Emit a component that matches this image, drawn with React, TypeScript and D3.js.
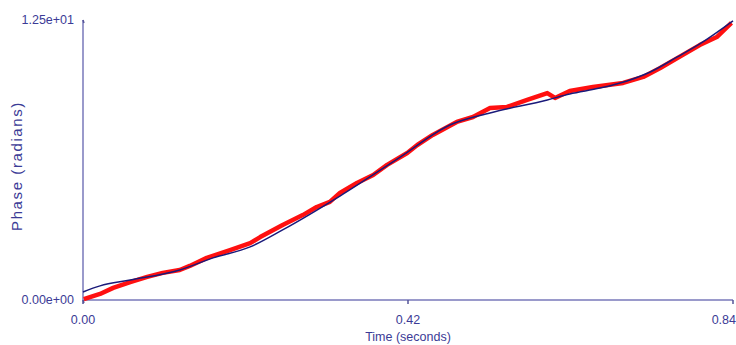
import React, { useEffect, useRef } from 'react';
import * as d3 from 'd3';

const measuredTime = [0.001, 0.022, 0.039, 0.061, 0.083, 0.103, 0.125, 0.138, 0.160, 0.190, 0.216, 0.229, 0.258, 0.284, 0.302, 0.319, 0.332, 0.354, 0.375, 0.393, 0.419, 0.432, 0.452, 0.483, 0.504, 0.526, 0.548, 0.574, 0.600, 0.610, 0.629, 0.659, 0.698, 0.724, 0.746, 0.768, 0.797, 0.819, 0.838];
const measuredPhase = [0.04, 0.27, 0.54, 0.80, 1.03, 1.21, 1.34, 1.52, 1.88, 2.23, 2.54, 2.81, 3.35, 3.79, 4.15, 4.38, 4.78, 5.22, 5.58, 6.03, 6.56, 6.92, 7.37, 7.95, 8.17, 8.57, 8.62, 8.93, 9.24, 9.02, 9.33, 9.51, 9.69, 9.96, 10.36, 10.80, 11.38, 11.74, 12.37];

// fitted curve (blue)
const fitTime = [0.0, 0.022, 0.061, 0.125, 0.168, 0.216, 0.258, 0.332, 0.410, 0.474, 0.526, 0.600, 0.629, 0.668, 0.703, 0.733, 0.768, 0.797, 0.84];
const fitPhase = [0.36, 0.63, 0.89, 1.34, 1.88, 2.37, 3.13, 4.64, 6.38, 7.81, 8.35, 8.93, 9.20, 9.46, 9.78, 10.18, 10.85, 11.43, 12.46];

const xTicks = [0.0, 0.42, 0.84];
const yTicks = [0, 12.5];

const width = 736;
const height = 345;

const App = () => {
  const ref = useRef<SVGSVGElement>(null);

  useEffect(() => {
    const svg = d3.select(ref.current);
    svg.selectAll('*').remove();

    const x = d3.scaleLinear().domain([0, 0.84]).range([83, 733]);
    const y = d3.scaleLinear().domain([0, 12.5]).range([300, 20]);

    const axisColor = '#9a9acb';
    const textColor = '#3b3b96';
    const font = 'Liberation Sans, Arial, sans-serif';

    const measured = measuredTime.map((t, i) => [t, measuredPhase[i]]);
    const fit = fitTime.map((t, i) => [t, fitPhase[i]]);

    const line = d3.line<number[]>()
      .x(d => x(d[0]))
      .y(d => y(d[1]));

    // axes
    svg.append('line')
      .attr('x1', x(0)).attr('x2', x(0.84))
      .attr('y1', y(0)).attr('y2', y(0))
      .attr('stroke', axisColor).attr('stroke-width', 2);
    svg.append('line')
      .attr('x1', x(0)).attr('x2', x(0))
      .attr('y1', y(0)).attr('y2', y(12.5))
      .attr('stroke', axisColor).attr('stroke-width', 2);

    svg.append('g').selectAll('line')
      .data(xTicks)
      .join('line')
      .attr('x1', d => x(d)).attr('x2', d => x(d))
      .attr('y1', y(0)).attr('y2', y(0) + 4)
      .attr('stroke', '#555599').attr('stroke-width', 1.5);
    svg.append('g').selectAll('line')
      .data(yTicks)
      .join('line')
      .attr('x1', x(0)).attr('x2', x(0) + 1)
      .attr('y1', d => y(d)).attr('y2', d => y(d) + 3)
      .attr('stroke', '#555599').attr('stroke-width', 1.5);

    // last x label sits against the right edge
    svg.append('g')
      .attr('font-family', font)
      .attr('font-size', 12.5)
      .attr('fill', textColor)
      .selectAll('text')
      .data(xTicks)
      .join('text')
      .attr('text-anchor', (d, i) => (i === xTicks.length - 1 ? 'end' : 'middle'))
      .attr('x', (d, i) => (i === xTicks.length - 1 ? width : x(d)))
      .attr('y', y(0) + 24)
      .text(d => d.toFixed(2));

    svg.append('g')
      .attr('font-family', font)
      .attr('font-size', 12.5)
      .attr('fill', textColor)
      .attr('text-anchor', 'end')
      .selectAll('text')
      .data(yTicks)
      .join('text')
      .attr('x', 74)
      .attr('y', d => y(d) + 4)
      .text(d => d.toExponential(2).replace(/e([+-])(\d)$/, 'e$10$2'));

    svg.append('text')
      .attr('x', 408).attr('y', 341)
      .attr('text-anchor', 'middle')
      .attr('font-family', font)
      .attr('font-size', 12.5)
      .attr('fill', textColor)
      .text('Time (seconds)');

    svg.append('text')
      .attr('transform', 'translate(22,166) rotate(-90)')
      .attr('text-anchor', 'middle')
      .attr('font-family', font)
      .attr('font-size', 15)
      .attr('letter-spacing', 1.6)
      .attr('fill', textColor)
      .text('Phase (radians)');

    // data
    svg.append('path')
      .attr('d', line(measured))
      .attr('fill', 'none')
      .attr('stroke', '#ff1010')
      .attr('stroke-width', 4.5)
      .attr('stroke-linejoin', 'round');

    svg.append('path')
      .attr('d', line.curve(d3.curveMonotoneX)(fit))
      .attr('fill', 'none')
      .attr('stroke', '#1a1a7a')
      .attr('stroke-width', 1.5);
  }, []);

  return (
    <svg ref={ref} width={width} height={height}
      style={{ position: 'absolute', left: 0, top: 0, background: '#fff' }} />
  );
};

export default App;
